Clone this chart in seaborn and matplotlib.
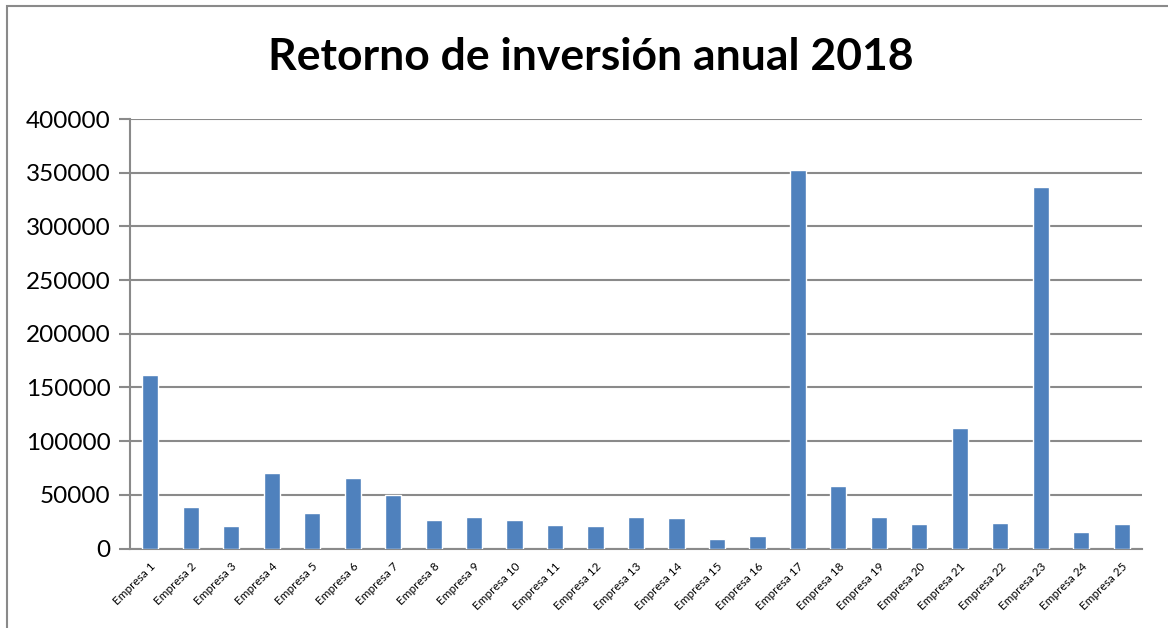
import numpy as np
import pandas as pd
import matplotlib
matplotlib.use("Agg")
import matplotlib.pyplot as plt
import seaborn as sns
from matplotlib.patches import Rectangle

# datos
empresas = [f"Empresa {i}" for i in range(1, 26)]
retorno = [162000, 39000, 21000, 70600, 33200, 65900, 49500, 26600, 29400, 26600,
           22000, 21300, 29400, 28000, 8900, 12000, 352500, 58400, 29400, 23200,
           112600, 23800, 337000, 15400, 22900]
y_ticks = [0, 50000, 100000, 150000, 200000, 250000, 300000, 350000, 400000]

df = pd.DataFrame({"Empresa": empresas, "Retorno": retorno})

sns.set_style("white")
plt.rcParams["font.family"] = ["Lato", "DejaVu Sans"]
plt.rcParams["text.color"] = "black"

gris = "#8a8a8a"
fig = plt.figure(figsize=(11.68, 6.28), dpi=100)
ax = fig.add_axes([130 / 1168, 1 - 548.5 / 628, (1142 - 130) / 1168, (548.5 - 119) / 628])

sns.barplot(data=df, x="Empresa", y="Retorno", color="#4F81BD", width=0.4,
            saturation=1, ax=ax, zorder=3)

ax.set_xlim(-0.5, len(empresas) - 0.5)
ax.set_ylim(0, 400000)
ax.set_yticks(y_ticks)
ax.set_yticklabels([str(v) for v in y_ticks], fontsize=17.5)
ax.yaxis.grid(True, color=gris, linewidth=1.5, zorder=0)
ax.set_axisbelow(True)

ax.set_xticks(range(len(empresas)))
ax.set_xticklabels(empresas, rotation=45, ha="right", rotation_mode="anchor", fontsize=8.5)
ax.tick_params(axis="x", which="major", length=0, pad=9, labelcolor="black")
ax.set_xticks(np.arange(-0.5, len(empresas), 1), minor=True)
ax.tick_params(axis="x", which="minor", length=4, width=1.2, color=gris)
ax.tick_params(axis="y", length=8, width=1.5, color=gris, left=True, pad=6, labelcolor="black")

for s in ["top", "right"]:
    ax.spines[s].set_visible(False)
ax.spines["left"].set_color(gris)
ax.spines["left"].set_linewidth(1.5)
ax.spines["bottom"].set_color(gris)
ax.spines["bottom"].set_linewidth(1.5)

ax.set_xlabel("")
ax.set_ylabel("")

fig.text(591 / 1168, 1 - 57 / 628, "Retorno de inversión anual 2018", ha="center", va="center",
         fontsize=32, fontweight="bold", color="black")

# marco exterior del gráfico
fig.patches.append(Rectangle((7 / 1168, -0.1), 1.2, 1.1 - 6 / 628, transform=fig.transFigure,
                             fill=False, edgecolor=gris, linewidth=1.5))

fig.savefig("out.png", dpi=100)
